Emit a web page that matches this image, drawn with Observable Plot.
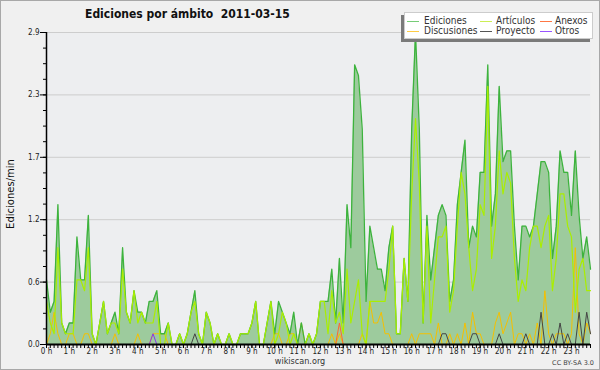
<!DOCTYPE html>
<html>
<head>
<meta charset="utf-8">
<script src="https://cdn.jsdelivr.net/npm/d3@7"></script>
<script src="https://cdn.jsdelivr.net/npm/@observablehq/plot@0.6"></script>
<style>
  html, body { margin: 0; padding: 0; background: #f0f0f0; }
  #wrap { position: relative; width: 600px; height: 370px; background: #f0f0f0; overflow: hidden; font-family: "DejaVu Sans", sans-serif; }
  #wrap svg { position: absolute; left: 0; top: 0; }
  .abs { position: absolute; white-space: nowrap; }
  #border { position: absolute; left: 0; top: 0; width: 598px; height: 368px; border: 1px solid #a8a8a8; pointer-events: none; }
  #title { left: 85px; top: 7px; font-family: "DejaVu Sans Condensed", "DejaVu Sans", sans-serif; font-weight: bold; font-size: 12px; color: #111; }
  #ylab { left: 10px; top: 194px; font-size: 10px; color: #111; transform: translate(-50%, -50%) rotate(-90deg); }
  #foot { left: 300px; top: 356px; font-family: "DejaVu Sans Condensed", "DejaVu Sans", sans-serif; font-size: 9px; color: #333; transform: translateX(-50%); }
  #cc { right: 6px; top: 359px; font-size: 6.5px; color: #444; }
  #legend { left: 404px; top: 12px; width: 189px; height: 27px; background: #fff; box-shadow: -3px 3px 0 #7a7a7a; border: 1px solid #ccc; box-sizing: border-box; }
  .lg { position: absolute; font-family: "DejaVu Sans Condensed", "DejaVu Sans", sans-serif; font-size: 10px; color: #333; line-height: 10px; }
  .sw { position: absolute; width: 12px; height: 0; border-top: 1px solid; }
</style>
</head>
<body>
<div id="wrap">
  <div id="chart"></div>
  <div class="abs" id="title">Ediciones por ámbito&nbsp;&nbsp;2011-03-15</div>
  <div class="abs" id="ylab">Ediciones/min</div>
  <div class="abs" id="foot">wikiscan.org</div>
  <div class="abs" id="cc">CC BY-SA 3.0</div>
  <div class="abs" id="legend"></div>
  <div id="border"></div>
</div>
<script>
// 10-minute buckets, 144 per day
const hours = ["0 h","1 h","2 h","3 h","4 h","5 h","6 h","7 h","8 h","9 h","10 h","11 h","12 h","13 h","14 h","15 h","16 h","17 h","18 h","19 h","20 h","21 h","22 h","23 h"];

const ediciones = [
0.6,0.3,0.4,1.3,0.2,0.1,0.2,0.2,1.0,0.6,
0.6,1.2,0.1,0.0,0.2,0.4,0.1,0.2,0.3,0.1,
0.9,0.3,0.2,0.5,0.3,0.3,0.2,0.4,0.4,0.5,
0.1,0.1,0.2,0.0,0.0,0.1,0.0,0.1,0.3,0.5,
0.1,0.0,0.3,0.2,0.0,0.1,0.0,0.0,0.1,0.0,
0.0,0.1,0.1,0.1,0.2,0.4,0.0,0.0,0.2,0.4,
0.1,0.4,0.3,0.2,0.1,0.3,0.0,0.2,0.0,0.1,
0.0,0.1,0.4,0.4,0.4,0.7,0.2,0.8,0.2,1.3,
0.9,2.6,2.5,2.0,0.4,1.1,0.9,0.7,0.7,0.5,
0.9,1.1,0.1,0.1,0.8,0.4,2.0,2.9,2.0,0.2,
1.2,0.6,0.9,1.2,1.3,1.2,0.4,0.6,1.3,1.6,
1.9,0.9,1.1,1.0,1.6,1.6,2.6,1.1,1.4,2.4,
1.7,1.8,1.8,1.1,0.6,1.1,1.1,1.0,1.1,1.4,
1.7,1.7,1.6,0.8,1.1,1.8,1.6,1.6,1.2,1.8,
1.2,0.8,1.0,0.7];

const articulos = [
0.4,0.2,0.1,0.9,0.2,0.1,0.1,0.1,0.6,0.6,
0.5,0.9,0.1,0.0,0.2,0.4,0.1,0.2,0.2,0.1,
0.7,0.3,0.2,0.5,0.2,0.3,0.2,0.2,0.2,0.4,
0.0,0.0,0.2,0.0,0.0,0.1,0.0,0.1,0.3,0.4,
0.1,0.0,0.3,0.2,0.0,0.1,0.0,0.0,0.1,0.0,
0.0,0.1,0.1,0.1,0.2,0.4,0.0,0.0,0.2,0.4,
0.0,0.1,0.3,0.2,0.0,0.1,0.0,0.0,0.0,0.1,
0.0,0.1,0.4,0.4,0.1,0.5,0.2,0.3,0.1,0.7,
0.2,0.4,0.6,0.1,0.0,0.4,0.4,0.4,0.4,0.4,
0.7,1.1,0.1,0.1,0.8,0.4,1.4,2.1,1.5,0.2,
1.1,0.2,0.6,1.0,1.0,1.1,0.3,0.5,1.1,1.6,
1.4,0.9,0.5,0.7,1.3,1.2,2.4,0.8,1.1,1.8,
1.4,1.6,1.5,0.8,0.4,0.6,0.5,0.9,1.1,1.1,
0.9,1.1,1.2,0.5,0.8,1.4,1.4,1.1,1.0,0.3,
0.7,0.8,0.5,0.5];

const discusiones = [
0.0,0.1,0.3,0.1,0.0,0.0,0.1,0.1,0.0,0.0,
0.1,0.1,0.0,0.0,0.0,0.0,0.0,0.0,0.1,0.0,
0.0,0.0,0.0,0.0,0.1,0.0,0.0,0.0,0.1,0.1,
0.1,0.1,0.0,0.0,0.0,0.0,0.0,0.0,0.0,0.0,
0.0,0.0,0.0,0.0,0.0,0.0,0.0,0.0,0.0,0.0,
0.0,0.0,0.0,0.0,0.0,0.0,0.0,0.0,0.0,0.0,
0.1,0.1,0.0,0.0,0.1,0.1,0.0,0.2,0.0,0.0,
0.0,0.0,0.0,0.0,0.0,0.1,0.0,0.1,0.0,0.0,
0.0,0.0,0.0,0.1,0.0,0.4,0.2,0.2,0.3,0.1,
0.1,0.0,0.0,0.0,0.0,0.0,0.1,0.0,0.1,0.1,
0.1,0.1,0.0,0.2,0.0,0.0,0.1,0.0,0.1,0.0,
0.2,0.0,0.3,0.1,0.1,0.0,0.0,0.0,0.2,0.3,
0.1,0.2,0.3,0.0,0.1,0.1,0.0,0.1,0.0,0.2,
0.0,0.5,0.1,0.0,0.1,0.1,0.1,0.0,0.1,0.9,
0.1,0.0,0.2,0.1];

const anexos = new Array(144).fill(0);
anexos[77] = 0.2;

const proyecto = new Array(144).fill(0);
[[39,0.1],[104,0.1],[105,0.1],[112,0.1],[113,0.1],[119,0.1],[126,0.1],[130,0.3],[133,0.1],[135,0.2],[137,0.1],[140,0.3],[142,0.3],[143,0.1]]
  .forEach(([i, v]) => proyecto[i] = v);

const otros = new Array(144).fill(0);
otros[28] = 0.1;

const seriesNames = ["Ediciones","Artículos","Anexos","Discusiones","Proyecto","Otros"];
const seriesColors = ["#3db33d","#aaee00","#ff6633","#f5c000","#444444","#8833ee"];
const legendSwatch = ["#77cc77","#ccee55","#ff7744","#ffcc44","#555555","#9955ff"];

const rows = ediciones.map((v, i) => ({
  i, ediciones: v, articulos: articulos[i], discusiones: discusiones[i],
  anexos: anexos[i], proyecto: proyecto[i], otros: otros[i]
}));

const yMax = 2.9;
const yMinor = d3.range(21).map(k => k * yMax / 20);
const yMajor = d3.range(6).map(k => k * yMax / 5);
const hourTicks = d3.range(24).map(h => h * 6);

const line = (key, color, w) => Plot.lineY(rows, {x: "i", y: key, stroke: color, strokeWidth: w});

const chart = Plot.plot({
  width: 600, height: 370,
  marginLeft: 46, marginRight: 10, marginTop: 32, marginBottom: 26,
  x: {domain: [0, 143], axis: null, label: null},
  y: {domain: [0, yMax], axis: null, label: null},
  style: {background: "transparent", fontFamily: "DejaVu Sans Condensed, DejaVu Sans", fontSize: "8px", color: "#222"},
  marks: [
    Plot.frame({fill: "#edeef0", stroke: null}),
    Plot.ruleY(yMajor.slice(1), {stroke: "#cdcdcd", strokeWidth: 1}),
    Plot.areaY(rows, {x: "i", y: "ediciones", fill: "#9dcb9d"}),
    line("discusiones", seriesColors[3], 1),
    line("anexos", seriesColors[2], 1),
    line("proyecto", seriesColors[4], 1),
    line("otros", seriesColors[5], 1),
    line("ediciones", seriesColors[0], 1.3),
    line("articulos", seriesColors[1], 1.2),
    Plot.ruleX([0], {stroke: "#000", strokeWidth: 1.5}),
    Plot.ruleY([0], {stroke: "#000", strokeWidth: 2}),
    Plot.axisY(yMinor, {tickSize: 3, tickFormat: () => "", stroke: "#000", label: null}),
    Plot.axisY(yMajor, {tickSize: 6, tickPadding: 1, tickFormat: d => d.toFixed(1), stroke: "#000", fontSize: 8, label: null}),
    Plot.axisX(d3.range(144), {tickSize: 4, tickFormat: () => "", stroke: "#000", label: null}),
    Plot.axisX(hourTicks, {tickSize: 4, tickPadding: 0, tickFormat: i => hours[i / 6], stroke: "#000", fontSize: 8, label: null})
  ]
});
document.getElementById("chart").appendChild(chart);

// legend
const leg = document.getElementById("legend");
const cols = [2, 75, 135];
const textCols = [19, 91, 150];
const rowsY = [3, 13];
const order = [[0, 1, 2], [3, 4, 5]];
order.forEach((r, ri) => r.forEach((si, ci) => {
  const sw = document.createElement("div");
  sw.className = "sw";
  sw.style.left = cols[ci] + "px";
  sw.style.top = (rowsY[ri] + 5) + "px";
  sw.style.borderColor = legendSwatch[si];
  leg.appendChild(sw);
  const t = document.createElement("div");
  t.className = "lg";
  t.style.left = textCols[ci] + "px";
  t.style.top = rowsY[ri] + "px";
  t.textContent = seriesNames[si];
  leg.appendChild(t);
}));
</script>
</body>
</html>
